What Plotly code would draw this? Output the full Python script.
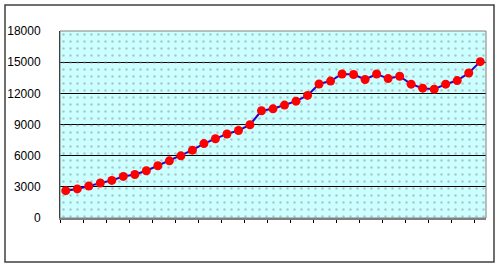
import plotly.graph_objects as go

categories = [str(i) for i in range(1, 38)]
values = [2630, 2800, 3080, 3370, 3620, 4000, 4190, 4550, 5030, 5500,
          5980, 6530, 7160, 7630, 8090, 8420, 8980, 10320, 10510, 10870,
          11250, 11800, 12900, 13180, 13860, 13810, 13330, 13860, 13420, 13640,
          12880, 12500, 12400, 12880, 13230, 13960, 15050]
y_ticks = [0, 3000, 6000, 9000, 12000, 15000, 18000]

W, H = 500, 272
L, R, T, B = 60, 14, 31, 54
pw, ph = W - L - R, H - T - B

def px(x):
    return (x - L) / pw

def py(y):
    return (H - B - y) / ph

fig = go.Figure()

# dotted background pattern (main invisible axes)
fig.add_trace(go.Scatter(
    x=[0, 1, 1, 0, 0], y=[0, 0, 1, 1, 0], mode="none", fill="toself",
    fillcolor="rgba(0,0,0,0)",
    fillpattern=dict(shape=".", fgcolor="#8c8c8c", bgcolor="rgba(0,0,0,0)",
                     size=7, solidity=0.1),
    hoverinfo="skip", showlegend=False, xaxis="x", yaxis="y"))

fig.add_trace(go.Scatter(
    x=categories, y=values, mode="lines+markers",
    line=dict(color="#2a00cc", width=2),
    marker=dict(color="#ff0000", size=9, line=dict(width=0)),
    showlegend=False, xaxis="x2", yaxis="y2"))

fig.update_layout(
    width=W, height=H,
    margin=dict(l=L, r=R, t=T, b=B, autoexpand=False),
    paper_bgcolor="white",
    plot_bgcolor="#ccffff",
    font=dict(family="Liberation Sans, Arial, sans-serif", size=12, color="black"),
    xaxis=dict(visible=False, range=[0, 1], fixedrange=True, automargin=False),
    yaxis=dict(visible=False, range=[0, 1], fixedrange=True, automargin=False),
    xaxis2=dict(overlaying="x", type="category", range=[-0.5, 36.5],
                showticklabels=False, ticks="outside", tickson="boundaries",
                ticklen=3, tickcolor="black", tickwidth=1,
                showline=True, linecolor="#808080", linewidth=2,
                showgrid=False, mirror=False, automargin=False),
    yaxis2=dict(overlaying="y", side="left", range=[0, 18000], tickvals=y_ticks,
                ticktext=[str(v) for v in y_ticks],
                showgrid=True, gridcolor="black", gridwidth=1,
                showline=True, linecolor="black", linewidth=1,
                zeroline=False, ticks="", ticklabelstandoff=16,
                automargin=False),
    shapes=[
        dict(type="rect", xref="paper", yref="paper",
             x0=0, x1=1, y0=0, y1=1, line=dict(color="#808080", width=1),
             layer="above"),
        dict(type="rect", xref="paper", yref="paper",
             x0=px(5), x1=px(494), y0=py(262), y1=py(5),
             line=dict(color="#404040", width=1.5)),
    ],
)

fig.write_html("out.html")
